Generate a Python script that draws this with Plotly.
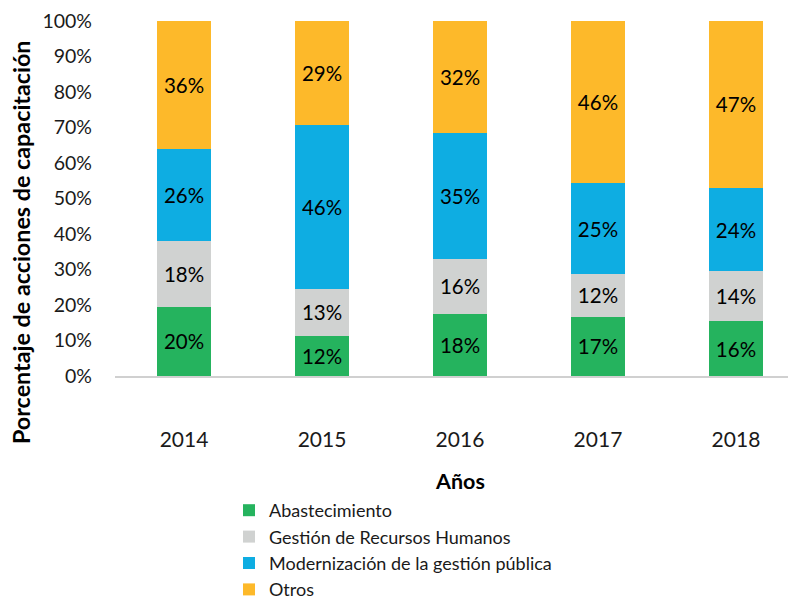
import plotly.graph_objects as go

years = ["2014", "2015", "2016", "2017", "2018"]
series_names = ["Abastecimiento", "Gestión de Recursos Humanos",
                "Modernización de la gestión pública", "Otros"]
abastecimiento = [19.5, 11.4, 17.6, 16.7, 15.4]
gestion_rrhh = [18.5, 13.1, 15.5, 12.0, 14.1]
modernizacion = [25.9, 46.2, 35.4, 25.6, 23.5]
otros = [36.1, 29.3, 31.5, 45.7, 47.0]
labels_abast = ["20%", "12%", "18%", "17%", "16%"]
labels_rrhh = ["18%", "13%", "16%", "12%", "14%"]
labels_mod = ["26%", "46%", "35%", "25%", "24%"]
labels_otros = ["36%", "29%", "32%", "46%", "47%"]
ytick_vals = [0, 10, 20, 30, 40, 50, 60, 70, 80, 90, 100]
ytick_text = ["0%", "10%", "20%", "30%", "40%", "50%", "60%", "70%", "80%", "90%", "100%"]

colors = ["#25B35E", "#D0D2D1", "#0EADE2", "#FDB92A"]
values = [abastecimiento, gestion_rrhh, modernizacion, otros]
texts = [labels_abast, labels_rrhh, labels_mod, labels_otros]

FONT = "Lato, 'Open Sans', sans-serif"
FS = 20.5

# page body has an 8px margin; figure coords = window coords - 8
OFF = 8
PL, PT, PB = 115 - OFF, 21 - OFF, 376 - OFF  # plot left/top/bottom in fig coords
W, H = 796 - OFF, 601 - OFF
PW, PH = W - PL, PB - PT


def px(xw):
    return (xw - OFF - PL) / PW


def py(yw):
    return (PB - (yw - OFF)) / PH


fig = go.Figure()
for name, vals, txt, col in zip(series_names, values, texts, colors):
    fig.add_trace(go.Bar(
        x=years, y=vals, name=name, text=txt,
        textposition="inside", insidetextanchor="middle",
        textfont=dict(color="black", size=FS, family=FONT),
        marker=dict(color=col, line=dict(width=0)),
        width=0.39, cliponaxis=False,
    ))

fig.update_layout(
    barmode="stack",
    width=W, height=H,
    margin=dict(l=PL, r=0, t=PT, b=H - PB, pad=0, autoexpand=False),
    plot_bgcolor="white", paper_bgcolor="white",
    font=dict(family=FONT, size=FS, color="#1a1a1a"),
    uniformtext=dict(mode="show", minsize=10),
    showlegend=True,
    legend=dict(
        x=px(229), xanchor="left", y=py(492), yanchor="top",
        orientation="v", font=dict(size=18, family=FONT, color="#1a1a1a"),
        traceorder="normal", itemwidth=30,
    ),
    xaxis=dict(
        type="category", range=[-0.5, 4.435],
        showline=True, linecolor="#D0D0D0", linewidth=2,
        ticks="", tickfont=dict(size=21, family=FONT, color="#1a1a1a"),
        ticklabelstandoff=44,
    ),
    yaxis=dict(
        range=[0, 100], tickvals=ytick_vals, ticktext=ytick_text,
        showgrid=False, zeroline=False, showline=False,
        ticks="", tickfont=dict(size=19.5, family=FONT, color="#1a1a1a"),
        ticklabelstandoff=22,
    ),
    annotations=[
        dict(text="<b>Años</b>", xref="paper", yref="paper",
             x=px(460), y=py(481),
             xanchor="center", yanchor="middle", showarrow=False,
             font=dict(size=21.5, family=FONT, color="black")),
        dict(text="<b>Porcentaje de acciones de capacitación</b>",
             xref="paper", yref="paper",
             x=px(21), y=py(243),
             xanchor="center", yanchor="middle", showarrow=False,
             textangle=-90,
             font=dict(size=23.3, family=FONT, color="black")),
    ],
)

fig.write_html("out.html")
